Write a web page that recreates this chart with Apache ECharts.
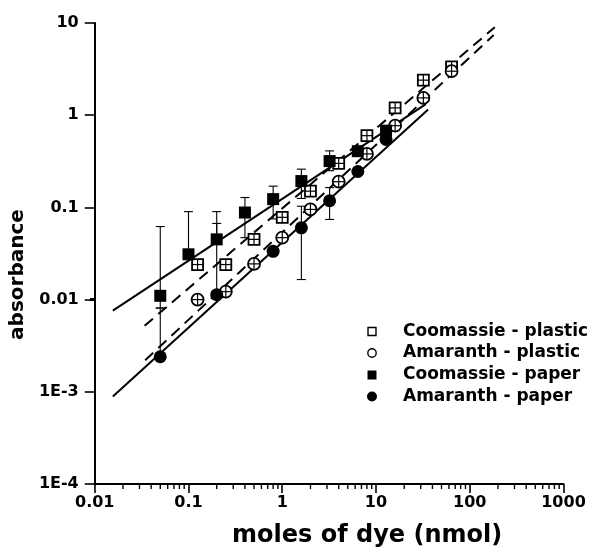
<!DOCTYPE html>
<html><head><meta charset="utf-8">
<script src="https://cdn.jsdelivr.net/npm/echarts@6/dist/echarts.min.js"></script>
<style>html,body{margin:0;padding:0;background:#fff}#c{width:599px;height:553px}</style>
</head><body><div id="c"></div>
<script>
// ---- data ----
const xTickLabels = ['0.01','0.1','1','10','100','1000'];
const yTickLabels = ['1E-4','1E-3','0.01','0.1','1','10'];
const legendNames = ['Coomassie - plastic','Amaranth - plastic','Coomassie - paper','Amaranth - paper'];

const coomPlasticX = [0.125,0.25,0.5,1,2,4,8,16,32,64];
const coomPlasticY = [0.024,0.024,0.045,0.078,0.15,0.30,0.60,1.2,2.4,3.35];
const amaPlasticX  = [0.125,0.25,0.5,1,2,4,8,16,32,64];
const amaPlasticY  = [0.010,0.0122,0.0244,0.047,0.095,0.19,0.38,0.77,1.54,3.0];
const coomPaperX   = [0.05,0.1,0.2,0.4,0.8,1.6,3.2,6.4,12.8];
const coomPaperY   = [0.011,0.031,0.045,0.088,0.123,0.193,0.318,0.407,0.68];
const coomPaperHi  = [0.062,0.09,0.09,0.128,0.17,0.26,0.41,null,null];
const coomPaperLo  = [0.0081,null,null,0.047,0.075,0.125,0.25,null,null];
const amaPaperX    = [0.05,0.2,0.8,1.6,3.2,6.4,12.8];
const amaPaperY    = [0.0024,0.0113,0.0334,0.060,0.118,0.245,0.545];
const amaPaperHi   = [0.0081,0.067,null,0.103,0.164,null,null];
const amaPaperLo   = [null,null,null,0.0165,0.074,null,null];

// fitted lines (end points)
const coomPaperFitX   = [0.0156, 34];   const coomPaperFitY   = [0.0076, 1.32];
const amaPaperFitX    = [0.0156, 36];   const amaPaperFitY    = [0.00089, 1.15];
const coomPlasticFitX = [0.034, 185];   const coomPlasticFitY = [0.0052, 9.0];
const amaPlasticFitX  = [0.0345, 180];  const amaPlasticFitY  = [0.0022, 7.4];

// minor ticks (2..9 per decade)
const xMinor = [], yMinor = [];
for (let k = -2; k < 3; k++) for (let m = 2; m < 10; m++) xMinor.push(m * Math.pow(10, k));
for (let k = -4; k < 1; k++) for (let m = 2; m < 10; m++) yMinor.push(m * Math.pow(10, k));

const zip = (a, b) => a.map((v, i) => [v, b[i]]);
const zip4 = (a, b, c, d) => a.map((v, i) => [v, b[i], c[i] == null ? '-' : c[i], d[i] == null ? '-' : d[i]]);

const FONT = 'DejaVu Sans, Liberation Sans, sans-serif';
const X_MIN = 0.01, Y_MIN = 1e-4;

function errRender(params, api) {
  const x = api.value(0), y = api.value(1), lo = api.value(2), hi = api.value(3);
  const c = api.coord([x, y]);
  const ch = [];
  const st = { stroke: '#000', lineWidth: 1.1 };
  const cw = 4.5;
  [lo, hi].forEach(v => {
    if (v == null || isNaN(v)) return;
    const p = api.coord([x, v]);
    ch.push({ type: 'line', shape: { x1: c[0], y1: c[1], x2: p[0], y2: p[1] }, style: st });
    ch.push({ type: 'line', shape: { x1: p[0] - cw, y1: p[1], x2: p[0] + cw, y2: p[1] }, style: st });
  });
  return { type: 'group', children: ch };
}
function openSquare(params, api) {
  const p = api.coord([api.value(0), api.value(1)]); const s = 11;
  return { type: 'group', children: [
    { type: 'rect', shape: { x: p[0] - s / 2, y: p[1] - s / 2, width: s, height: s }, style: { fill: '#fff', stroke: '#000', lineWidth: 1.8 } },
    { type: 'line', shape: { x1: p[0], y1: p[1] - s / 2, x2: p[0], y2: p[1] + s / 2 }, style: { stroke: '#000', lineWidth: 1.2 } },
    { type: 'line', shape: { x1: p[0] - s / 2, y1: p[1], x2: p[0] + s / 2, y2: p[1] }, style: { stroke: '#000', lineWidth: 1.2 } }
  ] };
}
function openCircle(params, api) {
  const p = api.coord([api.value(0), api.value(1)]); const r = 6;
  return { type: 'group', children: [
    { type: 'circle', shape: { cx: p[0], cy: p[1], r: r }, style: { fill: '#fff', stroke: '#000', lineWidth: 1.8 } },
    { type: 'line', shape: { x1: p[0], y1: p[1] - r, x2: p[0], y2: p[1] + r }, style: { stroke: '#000', lineWidth: 1.2 } },
    { type: 'line', shape: { x1: p[0] - r, y1: p[1], x2: p[0] + r, y2: p[1] }, style: { stroke: '#000', lineWidth: 1.2 } }
  ] };
}
function xMinorRender(params, api) {
  const p = api.coord([api.value(0), Y_MIN]);
  return { type: 'line', shape: { x1: p[0], y1: p[1], x2: p[0], y2: p[1] + 5 }, style: { stroke: '#000', lineWidth: 1.4 } };
}
function yMinorRender(params, api) {
  const p = api.coord([X_MIN, api.value(0)]);
  return { type: 'line', shape: { x1: p[0], y1: p[1], x2: p[0] - 4.5, y2: p[1] }, style: { stroke: '#000', lineWidth: 1.4 } };
}
const fitLine = (xs, ys, dashed) => ({
  type: 'line', data: zip(xs, ys), showSymbol: false, symbol: 'none', silent: true, z: 1,
  lineStyle: { color: '#000', width: 2, type: dashed ? [11, 7] : 'solid' }
});

// legend drawn as graphic (real text)
const LX = 372, LT = 403, LY = [331.5, 353, 375, 396.5];
const legendIcons = [
  { type: 'rect', shape: { x: LX - 4, y: LY[0] - 4, width: 8, height: 8 }, style: { fill: '#fff', stroke: '#000', lineWidth: 1.4 } },
  { type: 'circle', shape: { cx: LX, cy: LY[1], r: 4.2 }, style: { fill: '#fff', stroke: '#000', lineWidth: 1.4 } },
  { type: 'rect', shape: { x: LX - 4.5, y: LY[2] - 4.5, width: 9, height: 9 }, style: { fill: '#000' } },
  { type: 'circle', shape: { cx: LX, cy: LY[3], r: 5 }, style: { fill: '#000' } }
];
const legendTexts = legendNames.map((n, i) => ({
  type: 'text', x: LT, y: LY[i],
  style: { text: n, font: 'bold 17px ' + FONT, fill: '#000', textVerticalAlign: 'middle', textAlign: 'left' }
}));

const chart = echarts.init(document.getElementById('c'), null, { renderer: 'canvas' });
chart.setOption({
  backgroundColor: '#fff',
  animation: false,
  grid: { left: 93.5, right: 35.5, top: 23, bottom: 67, containLabel: false },
  graphic: [...legendIcons, ...legendTexts],
  xAxis: {
    type: 'log', logBase: 10, min: 0.01, max: 1000,
    name: 'moles of dye (nmol)', nameLocation: 'middle', nameGap: 40,
    nameTextStyle: { fontFamily: FONT, fontWeight: 'bold', fontSize: 24, color: '#000', padding: [0, 0, 0, 76] },
    axisLine: { lineStyle: { color: '#000', width: 2 } },
    axisTick: { length: 9, lineStyle: { color: '#000', width: 1.6 } },
    axisLabel: { margin: 11, fontFamily: FONT, fontWeight: 'bold', fontSize: 16, color: '#000',
      formatter: v => xTickLabels[Math.round(Math.log10(v)) + 2] },
    splitLine: { show: false }
  },
  yAxis: {
    type: 'log', logBase: 10, min: 1e-4, max: 10,
    name: 'absorbance', nameLocation: 'middle', nameGap: 57,
    nameTextStyle: { fontFamily: FONT, fontWeight: 'bold', fontSize: 20, color: '#000', padding: [0, 42, 0, 0] },
    axisLine: { lineStyle: { color: '#000', width: 2 } },
    axisTick: { length: 10, lineStyle: { color: '#000', width: 1.6 } },
    axisLabel: { margin: 16, fontFamily: FONT, fontWeight: 'bold', fontSize: 16, color: '#000',
      formatter: v => yTickLabels[Math.round(Math.log10(v)) + 4] },
    splitLine: { show: false }
  },
  series: [
    { type: 'custom', name: 'xminor', data: xMinor.map(v => [v, Y_MIN]), renderItem: xMinorRender, clip: false, silent: true, z: 5 },
    { type: 'custom', name: 'yminor', data: yMinor.map(v => [X_MIN, v]), renderItem: yMinorRender, clip: false, silent: true, z: 5 },
    fitLine(coomPaperFitX, coomPaperFitY, false),
    fitLine(amaPaperFitX, amaPaperFitY, false),
    fitLine(coomPlasticFitX, coomPlasticFitY, true),
    fitLine(amaPlasticFitX, amaPlasticFitY, true),
    { type: 'custom', name: 'errCP', data: zip4(coomPaperX, coomPaperY, coomPaperLo, coomPaperHi), renderItem: errRender, silent: true, z: 2 },
    { type: 'custom', name: 'errAP', data: zip4(amaPaperX, amaPaperY, amaPaperLo, amaPaperHi), renderItem: errRender, silent: true, z: 2 },
    { type: 'custom', name: legendNames[0], data: zip(coomPlasticX, coomPlasticY), renderItem: openSquare, z: 3 },
    { type: 'custom', name: legendNames[1], data: zip(amaPlasticX, amaPlasticY), renderItem: openCircle, z: 3 },
    { type: 'scatter', name: legendNames[2], data: zip(coomPaperX, coomPaperY), symbol: 'rect', symbolSize: 12, itemStyle: { color: '#000', opacity: 1 }, z: 4 },
    { type: 'scatter', name: legendNames[3], data: zip(amaPaperX, amaPaperY), symbol: 'circle', symbolSize: 13, itemStyle: { color: '#000', opacity: 1 }, z: 4 }
  ]
});
</script></body></html>
